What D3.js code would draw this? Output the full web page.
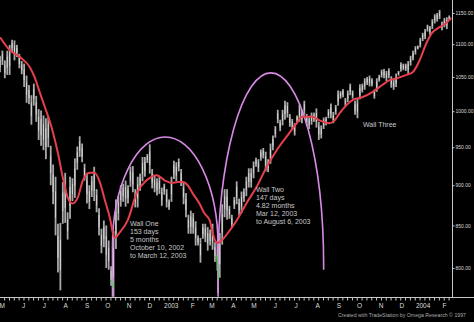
<!DOCTYPE html>
<html><head><meta charset="utf-8">
<script src="https://cdn.jsdelivr.net/npm/d3@7"></script>
<style>html,body{margin:0;padding:0;background:#000;overflow:hidden}svg{display:block}</style>
</head><body><svg id="c" width="474" height="322"></svg>
<script>
// S&P 500, half-week high/low bars (first half Mon-Wed, second half Wed-Fri)
const firstWeek = "2002-04-29";
const barHigh = [
1082,1090, 1075,1090, 1099,1107, 1106,1099, 1085,1074, 1070,1052, 1038,1023, 1040,1022, 1003,1001, 994,990, 993,952, 927,911, 852,853, 904,916, 866,911, 909,935, 951,965, 955,928, 916,900, 912,924, 895,871, 846,856, 850,832, 802,843, 882,886, 900,902, 906,900, 924,925, 895,911, 915,937, 937,941, 954,921, 912,909, 911,897, 902,895, 882,911,
932,930, 935,921, 904,890, 863,868, 865,855, 838,835, 852,852, 848,845, 852,830, 829,841, 876,895, 895,874, 863,885, 905,883, 892,896, 911,922, 922,931, 936,934, 947,949, 944,934, 955,966, 979,1002, 988,1002, 1015,1013, 996,989, 983,994, 1010,1002, 1015,996, 993,998, 998,1004, 985,980, 991,992, 1003,1011, 999,1009, 1030,1029, 1032,1019, 1030,1040, 1030,1015, 1018,1039, 1040,1048, 1050,1052, 1048,1031, 1048,1053, 1061,1062, 1059,1063, 1051,1046, 1055,1059, 1072,1070, 1070,1074, 1082,1090, 1097,1098, 1110,1118,
1124,1131, 1129,1140, 1148,1150, 1155,1136, 1142,1143, 1146];
const barLow = [
1057,1068, 1048,1053, 1053,1088, 1075,1080, 1063,1054, 1035,1012, 1010,981, 1008,985, 960,952, 946,934, 950,900, 876,838, 795,775, 852,853, 833,858, 880,884, 920,937, 930,906, 877,870, 885,880, 866,838, 817,824, 800,798, 780,768, 822,856, 873,879, 873,877, 898,891, 872,872, 893,905, 911,929, 915,896, 891,887, 889,874, 888,872, 869,879,
908,905, 918,899, 876,860, 840,840, 840,826, 826,806, 834,830, 820,826, 821,807, 797,789, 827,860, 857,858, 847,870, 876,862, 865,879, 886,897, 897,909, 924,917, 932,935, 918,917, 928,946, 963,983, 972,980, 988,991, 978,974, 966,984, 985,983, 995,979, 975,981, 985,977, 960,962, 975,980, 990,990, 983,995, 1008,1018, 1020,1007, 1013,1023, 1018,995, 990,1017, 1027,1031, 1038,1036, 1036,1018, 1028,1043, 1049,1048, 1044,1048, 1034,1031, 1035,1052, 1058,1060, 1059,1055, 1067,1075, 1084,1092, 1095,1105,
1108,1120, 1115,1124, 1133,1136, 1140,1122, 1127,1124, 1137];

// moving average (red line)
const maDates = ["2002-04-30","2002-05-14","2002-05-29","2002-06-12","2002-06-19","2002-06-27","2002-07-04","2002-07-15","2002-07-23","2002-07-30","2002-08-06","2002-08-13","2002-08-21","2002-08-28","2002-09-07","2002-09-14","2002-09-22","2002-09-29","2002-10-06","2002-10-13","2002-10-20","2002-11-01","2002-11-14","2002-11-28","2002-12-13","2002-12-25","2003-01-04","2003-01-13","2003-01-20","2003-01-27","2003-02-03","2003-02-13","2003-02-20","2003-02-28","2003-03-04","2003-03-11","2003-03-17","2003-03-29","2003-04-08","2003-04-22","2003-05-07","2003-05-21","2003-06-05","2003-06-19","2003-07-04","2003-07-12","2003-07-27","2003-08-06","2003-08-21","2003-08-28","2003-09-04","2003-09-08","2003-09-23","2003-10-07","2003-10-22","2003-11-05","2003-11-15","2003-11-26","2003-12-10","2003-12-19","2003-12-29","2004-01-08","2004-01-16","2004-01-27","2004-02-06","2004-02-13"];
const maValues = [1111,1091,1080,1065,1050,1026,1006,973,942,910,885,877,885,906,916,916,903,881,860,835,841,856,890,906,913,906,903,904,904,900,890,877,865,856,841,829,832,844,856,877,898,923,946,964,983,992,992,987,983,987,997,1002,1016,1020,1028,1038,1045,1048,1053,1057,1075,1102,1118,1127,1134,1142];

// "walls" (purple arches)
const wallStart = ["2002-10-10","2003-03-12"];
const wallEnd   = ["2003-03-12","2003-08-12"];
const wallBase  = [825, 802];
const wallPeak  = [964, 1056];
const wallLegStartLow = [768, 768];
const wallLegEndLow   = [772, 798];

// green low markers
const lowMarkDates = ["2002-10-10","2003-03-12"];
const lowMarkTop = [787, 815];
const lowMarkBottom = [778, 787];

const yTicks = [1150,1100,1050,1000,950,900,850,800];
const wallOneText = ["Wall One","153 days","5 months","October 10, 2002","to March 12, 2003"];
const wallTwoText = ["Wall Two","147 days","4.82 months","Mar 12, 2003","to August 6, 2003"];
const wallThreeText = ["Wall Three"];
const credit = "Created with TradeStation by Omega Research \u00A9 1997";

const parse = d3.utcParse("%Y-%m-%d");
const svg = d3.select("#c");
svg.append("rect").attr("width",474).attr("height",322).attr("fill","#000");

const x = d3.scaleUtc().domain([parse("2002-04-30"), parse("2004-02-14")]).range([0,452]);
const y = d3.scaleLog().domain([800,1150]).range([268,13]);

const font = "'Liberation Sans', Arial, sans-serif";

// bars
const start = parse(firstWeek);
const bars = barHigh.map((h,i)=>({
  d: d3.utcHour.offset(start, 24*(7*Math.floor(i/2) + (i%2 ? 4.5 : 1))),
  h, l: barLow[i]
}));
svg.append("g").selectAll("rect").data(bars).join("rect")
  .attr("x", b=>x(b.d)-0.9).attr("width",1.8)
  .attr("y", b=>y(b.h)).attr("height", b=>Math.max(1, y(b.l)-y(b.h)))
  .attr("fill","#a9a9a9");
svg.append("g").selectAll("line").data(bars).join("line")
  .attr("x1", b=>x(b.d)).attr("x2", b=>x(b.d))
  .attr("y1", b=>y(b.h)+ (y(b.l)-y(b.h))*0.25).attr("y2", b=>y(b.h)+(y(b.l)-y(b.h))*0.7)
  .attr("stroke","#e8e8e8").attr("stroke-width",0.7);

// walls
const wallG = svg.append("g").attr("fill","none").attr("stroke","#d98ae6").attr("stroke-width",1.6);
wallStart.forEach((s,i)=>{
  const x0 = x(parse(s)), x1 = x(parse(wallEnd[i]));
  const cy = y(wallBase[i]), ry = cy - y(wallPeak[i]), rx = (x1-x0)/2;
  wallG.append("path").attr("d",
    `M${x0},${y(wallLegStartLow[i])} L${x0},${cy} A${rx},${ry} 0 0 1 ${x1},${cy} L${x1},${y(wallLegEndLow[i])}`);
});

// green markers
svg.append("g").selectAll("line").data(lowMarkDates).join("line")
  .attr("x1", (d,i)=>x(parse(d))-1).attr("x2",(d,i)=>x(parse(d))+0.5)
  .attr("y1",(d,i)=>y(lowMarkTop[i])).attr("y2",(d,i)=>y(lowMarkBottom[i]))
  .attr("stroke","#55cc55").attr("stroke-width",1.2);

// moving average
const ma = maDates.map((d,i)=>({d:parse(d), v:maValues[i]}));
svg.append("path").datum(ma)
  .attr("d", d3.line().x(p=>x(p.d)).y(p=>y(p.v)).curve(d3.curveMonotoneX))
  .attr("fill","none").attr("stroke","#e5404c").attr("stroke-width",2);

// axes
const axisColor = "#c8c8c8";
svg.append("line").attr("x1",452.5).attr("x2",452.5).attr("y1",0).attr("y2",298).attr("stroke",axisColor);
svg.append("line").attr("x1",0).attr("x2",474).attr("y1",297.5).attr("y2",297.5).attr("stroke",axisColor);

const yAxis = d3.axisRight(y).tickValues(yTicks).tickFormat(d3.format(".2f")).tickSize(2).tickPadding(1);
const ya = svg.append("g").attr("transform","translate(452.5,0)").call(yAxis);
ya.select(".domain").remove();
ya.selectAll("line").attr("stroke",axisColor);
ya.selectAll("text").attr("fill","#dddddd").style("font-family",font).style("font-size","5px");

const weeks = d3.utcMonday.range(x.domain()[0], x.domain()[1]);
svg.append("g").selectAll("line").data(weeks).join("line")
  .attr("x1",d=>x(d)+0.5).attr("x2",d=>x(d)+0.5).attr("y1",298).attr("y2",300.5)
  .attr("stroke",axisColor).attr("stroke-width",1);

const months = d3.utcMonth.range(parse("2002-05-01"), x.domain()[1]);
const mfmt = d => d.getUTCMonth()===0 ? String(d.getUTCFullYear()) : d3.utcFormat("%B")(d)[0];
svg.append("g").selectAll("text").data(months).join("text")
  .attr("x", d=>x(d)+1.5).attr("y",308).attr("text-anchor","middle")
  .attr("fill","#dddddd").style("font-family",font).style("font-size","6.5px")
  .text(mfmt);

// annotations
function block(lines, x0, y0, step){
  svg.append("g").selectAll("text").data(lines).join("text")
    .attr("x",x0).attr("y",(d,i)=>y0+i*step)
    .attr("fill","#c8c8c8").style("font-family",font).style("font-size","7px")
    .text(d=>d);
}
block(wallOneText, 130, 226, 8);
block(wallTwoText, 256, 192, 8);
block(wallThreeText, 363, 127, 8);

svg.append("text").attr("x",338).attr("y",317).attr("textLength",128).attr("lengthAdjust","spacingAndGlyphs")
  .attr("fill","#aaaaaa").style("font-family",font).style("font-size","5.5px").text(credit);
</script></body></html>
